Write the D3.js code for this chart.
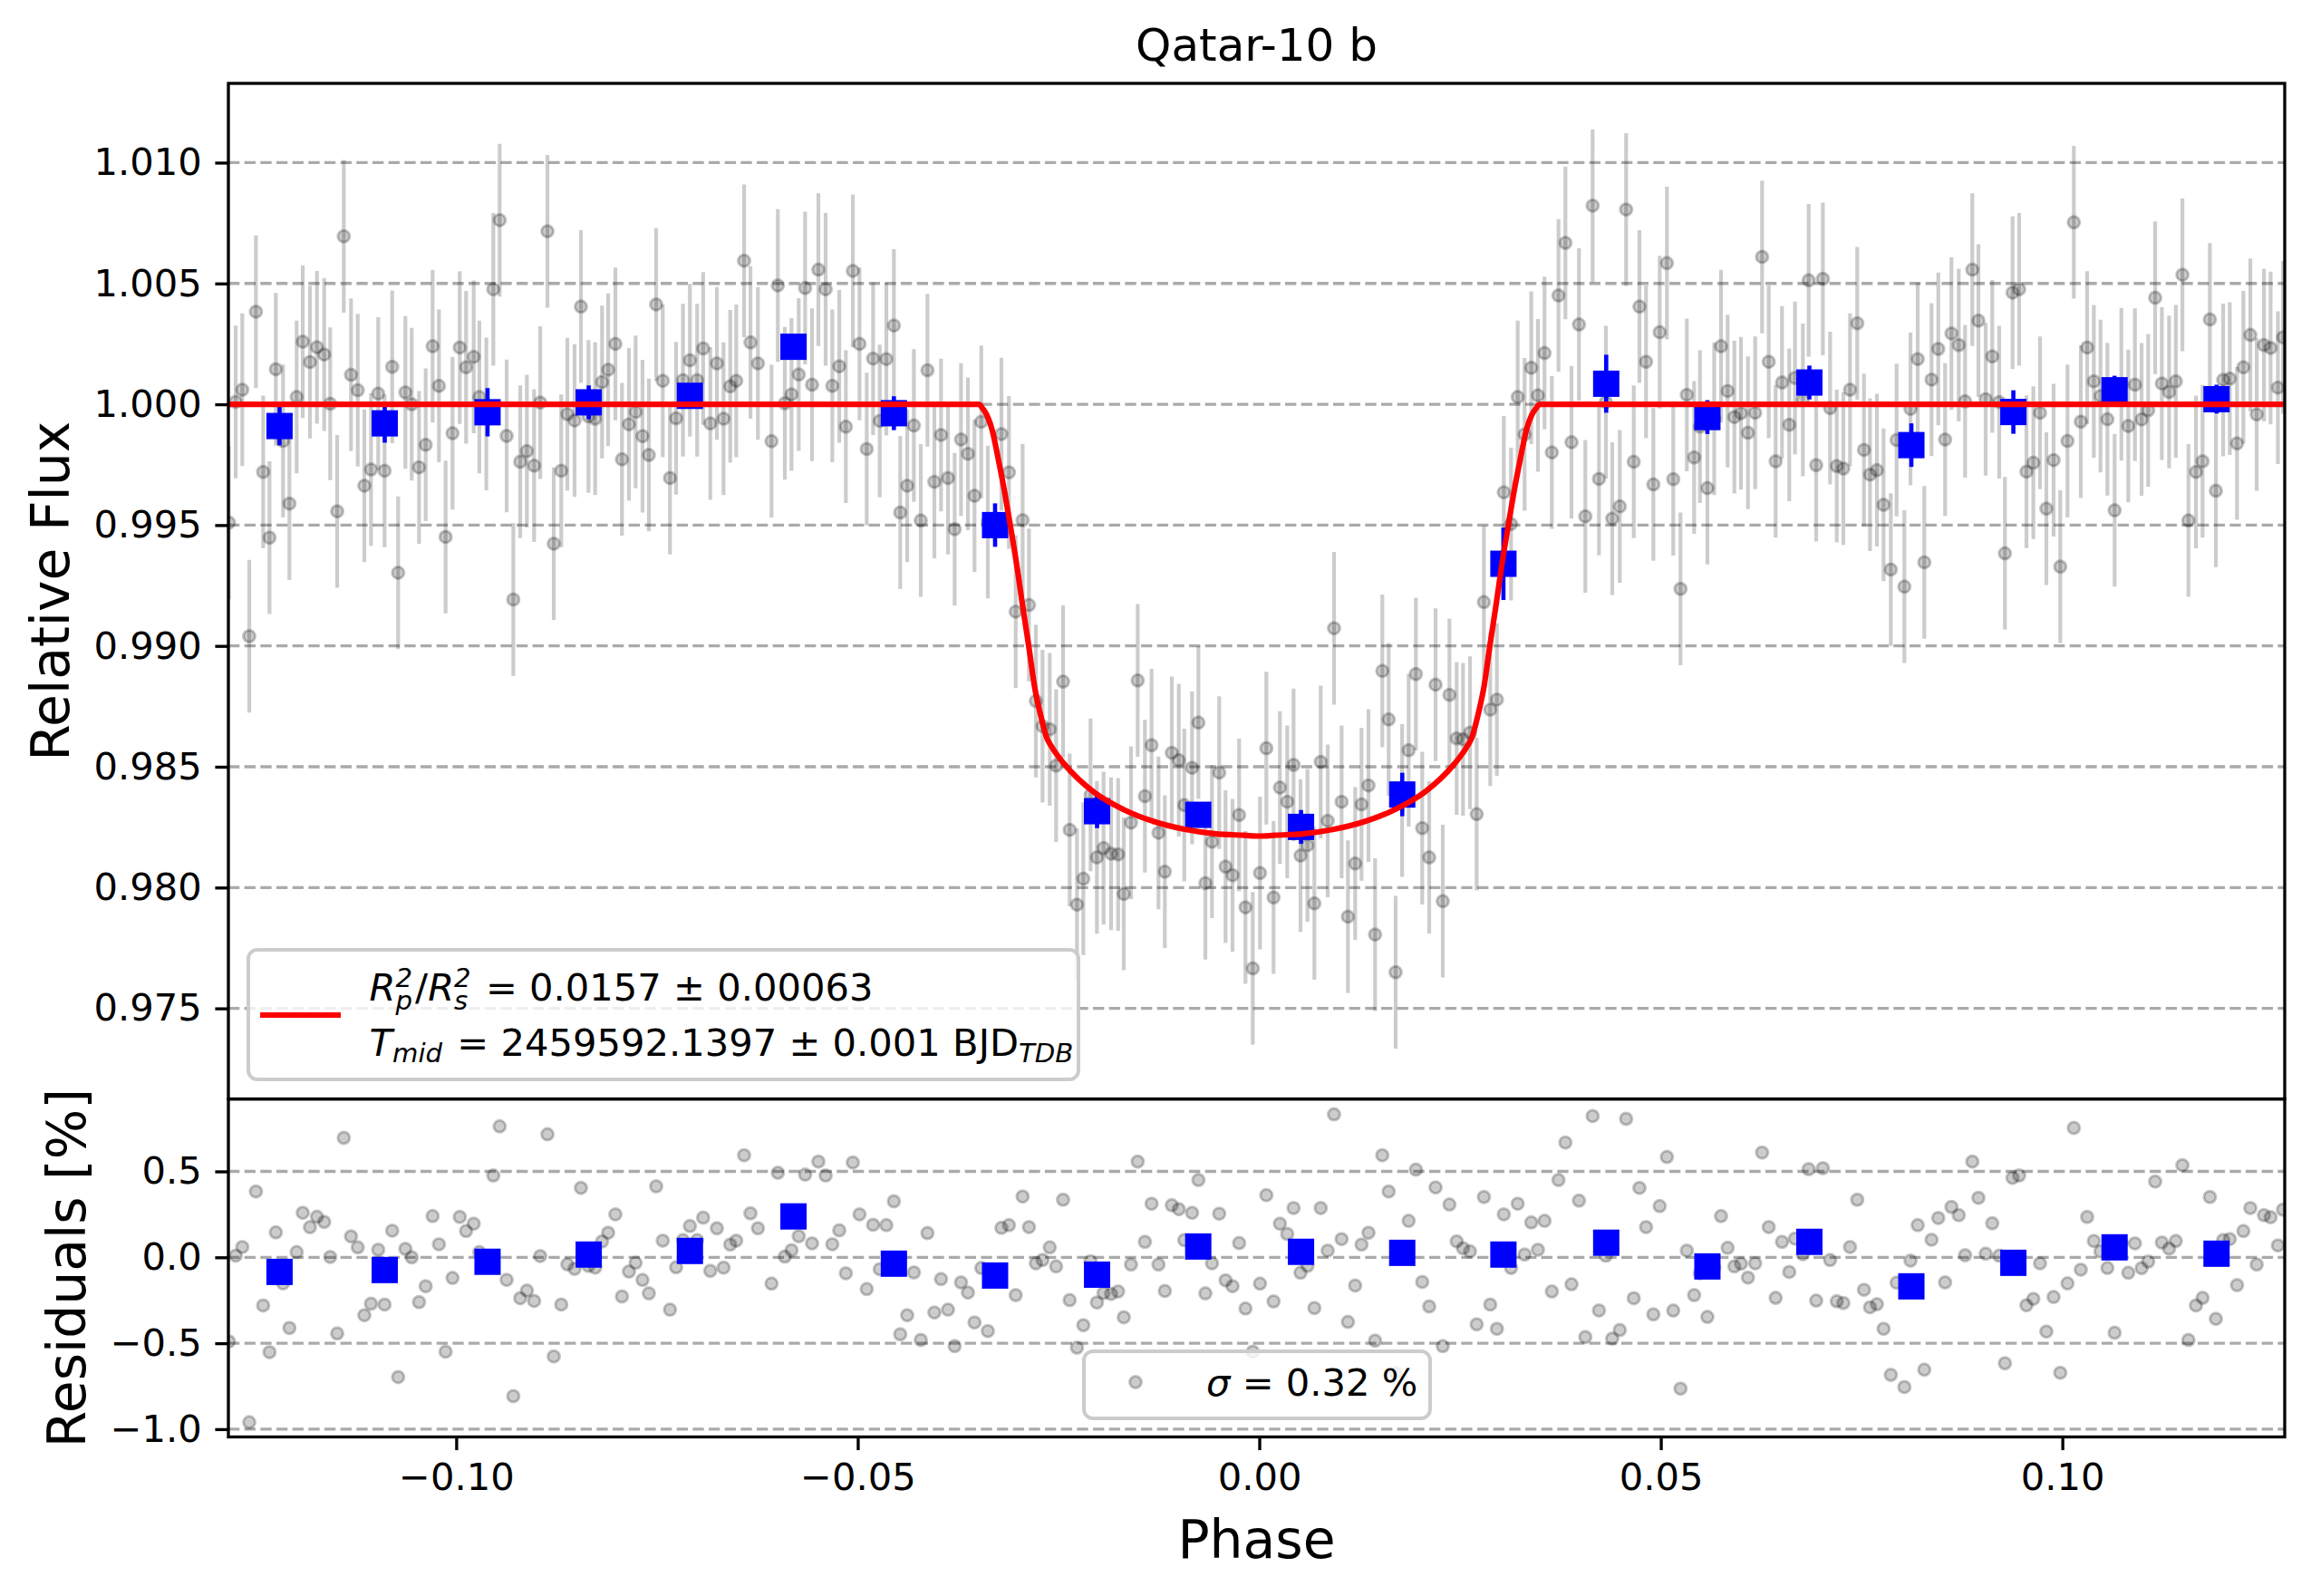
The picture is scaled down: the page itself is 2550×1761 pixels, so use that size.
<!DOCTYPE html>
<html><head><meta charset="utf-8">
<script src="https://cdn.jsdelivr.net/npm/d3@7"></script>
<style>body{margin:0;background:#fff}svg{display:block}text{white-space:pre}</style>
</head><body>
<svg id="c" width="2550" height="1761"></svg>
<script>
// ---------------- data ----------------
const chartTitle = "Qatar-10 b";
const xLabel = "Phase";
const yLabelTop = "Relative Flux";
const yLabelRes = "Residuals [%]";

const phase = [
-0.12830,-0.12746,-0.12664,-0.12577,-0.12494,-0.12404,-0.12325,-0.12246,-0.12156,-0.12077,
-0.11987,-0.11911,-0.11821,-0.11734,-0.11644,-0.11569,-0.11482,-0.11400,-0.11310,-0.11226,
-0.11144,-0.11061,-0.10971,-0.10892,-0.10797,-0.10723,-0.10633,-0.10554,-0.10463,-0.10380,
-0.10294,-0.10215,-0.10132,-0.10046,-0.09956,-0.09877,-0.09782,
-0.09712,-0.09625,-0.09538,-0.09459,-0.09372,-0.09289,-0.09203,-0.09120,-0.09030,-0.08954,
-0.08864,-0.08785,-0.08692,-0.08616,-0.08526,-0.08447,-0.08353,-0.08270,-0.08184,-0.08108,
-0.08018,-0.07936,-0.07849,-0.07766,-0.07680,-0.07601,-0.07510,-0.07428,-0.07338,-0.07262,
-0.07176,-0.07090,-0.07000,-0.06925,-0.06836,-0.06754,-0.06671,-0.06588,-0.06513,
-0.06415,-0.06336,-0.06243,-0.06074,-0.05995,-0.05908,-0.05825,-0.05735,-0.05655,-0.05569,
-0.05490,-0.05400,-0.05317,-0.05230,-0.05148,-0.05061,-0.04978,-0.04888,-0.04809,-0.04726,
-0.04644,-0.04550,-0.04471,-0.04384,-0.04301,-0.04215,-0.04132,-0.04046,-0.03963,-0.03876,
-0.03793,-0.03714,-0.03628,-0.03546,-0.03462,-0.03380,
-0.03211,-0.03117,-0.03033,-0.02947,-0.02868,-0.02782,-0.02699,-0.02609,-0.02530,-0.02443,
-0.02361,-0.02270,-0.02191,-0.02101,-0.02022,-0.01939,-0.01845,-0.01758,-0.01687,-0.01597,
-0.01514,-0.01424,-0.01341,-0.01255,-0.01176,-0.01089,-0.01002,-0.00934,-0.00837,-0.00758,
-0.00671,-0.00589,-0.00499,-0.00420,-0.00333,-0.00251,-0.00172,
-0.00081,0.00009,0.00088,0.00178,0.00257,0.00348,0.00427,0.00513,0.00600,0.00686,
0.00765,0.00852,0.00931,0.01025,0.01104,0.01194,0.01273,0.01360,0.01442,0.01532,
0.01611,0.01698,0.01779,0.01860,0.01950,0.02029,0.02116,0.02195,0.02285,0.02368,
0.02458,0.02537,0.02624,0.02707,0.02797,0.02876,0.02959,
0.03045,0.03135,0.03218,0.03304,0.03387,0.03470,0.03552,0.03643,0.03726,0.03812,
0.03888,0.03981,0.04060,0.04151,0.04230,0.04316,0.04395,0.04489,0.04568,0.04663,
0.04734,0.04816,0.04907,0.04986,0.05076,0.05155,0.05245,0.05324,0.05415,0.05487,
0.05580,0.05665,0.05750,0.05832,0.05916,0.05998,0.06085,
0.06175,0.06261,0.06344,0.06430,0.06509,0.06599,0.06671,0.06769,0.06841,0.06935,
0.07018,0.07108,0.07191,0.07273,0.07356,0.07446,0.07530,0.07605,0.07691,0.07774,
0.07864,0.07936,0.08033,0.08109,0.08199,0.08281,0.08371,0.08455,0.08540,0.08619,
0.08710,0.08789,0.08879,0.08955,0.09045,0.09127,0.09214,0.09285,
0.09380,0.09462,0.09553,0.09639,0.09722,0.09801,0.09891,0.09974,0.10064,0.10143,
0.10230,0.10309,0.10392,0.10475,0.10561,0.10651,0.10735,0.10821,0.10904,0.10987,
0.11069,0.11156,0.11239,0.11329,0.11413,0.11495,0.11570,0.11664,0.11746,0.11837,
0.11912,0.12003,0.12085,0.12175,0.12254,0.12341,0.12420,0.12511,0.12593,0.12684,0.12748
];

// residuals in percent
const resid = [
-0.49,0.01,0.06,-0.96,0.383,-0.28,-0.552,0.145,-0.152,-0.411,
0.03,0.259,0.175,0.236,0.206,0.002,-0.443,0.695,0.122,0.058,
-0.337,-0.270,0.044,-0.275,0.155,-0.697,0.049,0.000,-0.261,-0.168,
0.240,0.076,-0.549,-0.120,0.235,0.153,0.196,
0.03,-0.04,0.476,0.762,-0.131,-0.808,-0.238,-0.194,-0.254,0.007,
0.716,-0.577,-0.275,-0.041,-0.067,0.404,-0.05,-0.06,0.092,0.143,
0.250,-0.228,-0.083,-0.032,-0.132,-0.210,0.413,0.097,-0.305,-0.058,
0.10,0.182,0.10,0.231,-0.079,0.169,-0.06,0.074,0.097,
0.594,0.256,0.169,-0.153,0.492,0.004,0.041,0.123,0.481,0.081,
0.557,0.476,0.076,0.157,-0.093,0.552,0.250,-0.185,0.189,-0.069,
0.187,0.326,-0.448,-0.337,-0.088,-0.481,0.141,-0.321,-0.127,-0.305,
-0.517,-0.146,-0.205,-0.379,-0.062,-0.429,
0.171,0.187,-0.220,0.354,0.176,-0.035,-0.016,0.058,-0.053,0.335,
-0.249,-0.526,-0.395,-0.023,-0.263,-0.208,-0.213,-0.199,-0.349,-0.042,
0.557,0.090,0.312,-0.042,-0.196,0.303,0.280,0.10,0.259,0.450,
-0.210,-0.035,0.254,-0.134,-0.168,0.083,-0.298,
-0.549,-0.153,0.362,-0.257,0.196,0.136,0.287,-0.090,-0.05,-0.295,
0.287,0.039,0.832,0.106,-0.376,-0.164,0.074,0.143,-0.485,0.594,
0.383,-0.675,0.02,0.212,0.510,-0.143,-0.286,0.407,-0.517,0.307,
0.093,0.053,0.034,-0.390,0.351,-0.275,-0.416,
0.250,-0.062,0.312,0.016,0.203,0.044,0.212,-0.199,0.450,0.668,
-0.157,0.330,-0.464,0.822,-0.309,0.009,-0.473,-0.423,0.806,-0.238,
0.404,0.176,-0.332,0.298,0.584,-0.310,-0.764,0.039,-0.220,-0.093,
-0.347,-0.06,0.240,0.055,-0.053,-0.037,-0.118,
-0.035,0.610,0.176,-0.236,0.090,-0.085,0.109,0.018,0.513,-0.252,
0.519,-0.016,-0.256,-0.266,0.060,0.335,-0.189,-0.291,-0.273,-0.416,
-0.684,-0.148,-0.755,-0.019,0.187,-0.654,0.102,0.229,-0.146,0.293,
0.245,0.012,0.557,0.346,0.021,0.198,0.009,-0.617,
0.462,0.476,-0.279,-0.242,-0.035,-0.432,-0.231,-0.672,-0.152,0.753,
-0.072,0.235,0.095,0.034,-0.062,-0.439,0.083,-0.090,0.081,-0.063,
-0.025,0.441,0.086,0.051,0.095,0.536,-0.481,-0.280,-0.236,0.351,
-0.358,0.101,0.106,-0.162,0.153,0.287,-0.042,0.245,0.233,0.069,0.277
];

const fluxErr = 0.00316;   // per-point flux uncertainty (constant)

// binned points
const binPhase = [-0.1220,-0.1089,-0.0961,-0.0835,-0.0709,-0.0580,-0.0455,-0.0329,-0.0202,-0.0076,
                   0.0052, 0.0178, 0.0304, 0.0432, 0.0558, 0.0685, 0.0812, 0.0939, 0.1065, 0.1192];
const binFlux  = [0.99910,0.99921,0.99967,1.00008,1.00035,1.00238,0.99963,0.99500,0.98316,0.98301,
                  0.98251,0.98385,0.99340,1.00085,0.99947,1.00090,0.99831,0.99968,1.00058,1.00021];
const binErr   = [0.0008,0.0008,0.0010,0.0007,0.0005,0.0005,0.0007,0.0009,0.0007,0.0005,
                  0.0007,0.0009,0.0015,0.0012,0.0007,0.0007,0.0009,0.0009,0.0006,0.0006];
const binResid = [-0.085,-0.074,-0.026,0.016,0.037,0.238,-0.037,-0.106,-0.101,0.063,
                   0.032,0.026,0.016,0.085,-0.053,0.090,-0.169,-0.032,0.058,0.021];

// transit model curve
const modelPhase = [-0.1284,-0.0349,-0.0345,-0.0340,-0.0332,-0.0325,-0.0317,-0.0310,-0.0302,-0.0295,-0.0287,
  -0.0280,-0.0272,-0.0265,-0.0259,-0.0244,-0.0225,-0.0206,-0.0169,-0.0131,-0.0093,-0.0056,-0.0018,0,
  0.0018,0.0056,0.0093,0.0131,0.0169,0.0206,0.0225,0.0244,0.0259,0.0265,0.0272,0.0280,0.0287,0.0295,
  0.0302,0.0310,0.0317,0.0325,0.0332,0.0340,0.0345,0.0349,0.1277];
const modelFlux = [1,1,0.99985,0.99960,0.99885,0.99773,0.99635,0.99498,0.99335,0.99173,0.98998,
  0.98835,0.98710,0.98623,0.98585,0.98516,0.98448,0.98395,0.98323,0.98273,0.98241,0.98223,0.98216,0.98213,
  0.98216,0.98223,0.98241,0.98273,0.98323,0.98395,0.98448,0.98516,0.98585,0.98623,0.98710,0.98835,0.98998,0.99173,
  0.99335,0.99498,0.99635,0.99773,0.99885,0.99960,0.99985,1,1];

const topTicks = [0.975,0.980,0.985,0.990,0.995,1.000,1.005,1.010];
const resTicks = [-1.0,-0.5,0.0,0.5];
const xTicks = [-0.10,-0.05,0.00,0.05,0.10];
const xLim = [-0.12837, 0.12769];
const yLimTop = [0.97125, 1.01328];
const yLimRes = [-1.0454, 0.9214];

const legendDepth = {val:"0.0157", err:"0.00063"};
const legendTmid = {val:"2459592.1397", err:"0.001"};
const sigmaText = "0.32";

// ---------------- layout ----------------
const FONT = "DejaVu Sans";
const PT = 300/72;
const L = 252, R = 2521, T1 = 92, B1 = 1212.6, B2 = 1585.5;
const svg = d3.select("#c");
svg.append("rect").attr("width",2550).attr("height",1761).attr("fill","#fff");

const x = d3.scaleLinear().domain(xLim).range([L, R]);
const yT = d3.scaleLinear().domain(yLimTop).range([B1, T1]);
const yR = d3.scaleLinear().domain(yLimRes).range([B2, B1]);
const model = d3.scaleLinear().domain(modelPhase).range(modelFlux); // piecewise-linear model lookup

const defs = svg.append("defs");
defs.append("clipPath").attr("id","clipT").append("rect").attr("x",L).attr("y",T1).attr("width",R-L).attr("height",B1-T1);
defs.append("clipPath").attr("id","clipR").append("rect").attr("x",L).attr("y",B1).attr("width",R-L).attr("height",B2-B1);

const data = phase.map((p,i)=>({p, r: resid[i], f: model(p) + resid[i]/100}));
const bins = binPhase.map((p,i)=>({p, f: binFlux[i], e: binErr[i], r: binResid[i]}));

function grid(g, scale, ticks){
  g.selectAll("line.grid").data(ticks).join("line").attr("class","grid")
   .attr("x1",L).attr("x2",R).attr("y1",d=>scale(d)).attr("y2",d=>scale(d))
   .attr("stroke","#aaaaaa").attr("stroke-width",0.8*PT).attr("stroke-dasharray",(3.7*0.8*PT)+","+(1.6*0.8*PT));
}

// ---- top panel ----
const gT = svg.append("g").attr("clip-path","url(#clipT)");
grid(gT, yT, topTicks);
gT.selectAll("line.eb").data(data).join("line").attr("class","eb")
  .attr("x1",d=>x(d.p)).attr("x2",d=>x(d.p))
  .attr("y1",d=>yT(d.f-fluxErr)).attr("y2",d=>yT(d.f+fluxErr))
  .attr("stroke","#000").attr("stroke-opacity",0.2).attr("stroke-width",4.2);
gT.selectAll("circle.pt").data(data).join("circle").attr("class","pt")
  .attr("cx",d=>x(d.p)).attr("cy",d=>yT(d.f)).attr("r",6.5)
  .attr("fill","#000").attr("fill-opacity",0.2).attr("stroke","#000").attr("stroke-opacity",0.22).attr("stroke-width",3);
gT.selectAll("line.beb").data(bins).join("line").attr("class","beb")
  .attr("x1",d=>x(d.p)).attr("x2",d=>x(d.p))
  .attr("y1",d=>yT(d.f-d.e)).attr("y2",d=>yT(d.f+d.e))
  .attr("stroke","#0000ff").attr("stroke-width",4.6);
gT.selectAll("rect.bin").data(bins).join("rect").attr("class","bin")
  .attr("x",d=>x(d.p)-14.5).attr("y",d=>yT(d.f)-14.5).attr("width",29).attr("height",29).attr("fill","#0000ff");
const line = d3.line().x((d,i)=>x(modelPhase[i])).y(d=>yT(d)).curve(d3.curveMonotoneX);
gT.append("path").attr("d",line(modelFlux)).attr("fill","none").attr("stroke","#ff0000").attr("stroke-width",6.2);

// ---- residual panel ----
const gR = svg.append("g").attr("clip-path","url(#clipR)");
grid(gR, yR, resTicks);
gR.selectAll("circle.pt").data(data).join("circle").attr("class","pt")
  .attr("cx",d=>x(d.p)).attr("cy",d=>yR(d.r)).attr("r",6.5)
  .attr("fill","#000").attr("fill-opacity",0.2).attr("stroke","#000").attr("stroke-opacity",0.22).attr("stroke-width",3);
gR.selectAll("rect.bin").data(bins).join("rect").attr("class","bin")
  .attr("x",d=>x(d.p)-14.5).attr("y",d=>yR(d.r)-14.5).attr("width",29).attr("height",29).attr("fill","#0000ff");

// ---- axes ----
const TF = 10*PT;
function styleAxis(g){
  g.select(".domain").remove();
  g.selectAll(".tick line").attr("stroke","#000").attr("stroke-width",0.8*PT);
  g.selectAll(".tick text").attr("font-family",FONT).attr("font-size",TF).attr("fill","#000");
}
svg.append("g").attr("transform",`translate(${L},0)`)
  .call(d3.axisLeft(yT).tickValues(topTicks).tickFormat(d3.format(".3f")).tickSize(3.5*PT).tickPadding(3.5*PT)).call(styleAxis);
svg.append("g").attr("transform",`translate(${L},0)`)
  .call(d3.axisLeft(yR).tickValues(resTicks).tickFormat(d3.format(".1f")).tickSize(3.5*PT).tickPadding(3.5*PT)).call(styleAxis);
svg.append("g").attr("transform",`translate(0,${B2})`)
  .call(d3.axisBottom(x).tickValues(xTicks).tickFormat(d3.format(".2f")).tickSize(3.5*PT).tickPadding(3.5*PT)).call(styleAxis);

// frames
svg.append("rect").attr("x",L).attr("y",T1).attr("width",R-L).attr("height",B1-T1).attr("fill","none").attr("stroke","#000").attr("stroke-width",0.8*PT);
svg.append("rect").attr("x",L).attr("y",B1).attr("width",R-L).attr("height",B2-B1).attr("fill","none").attr("stroke","#000").attr("stroke-width",0.8*PT);

// labels
const LF = 14*PT;
svg.append("text").attr("x",(L+R)/2).attr("y",67).attr("text-anchor","middle").attr("font-family",FONT).attr("font-size",12*PT).text(chartTitle);
svg.append("text").attr("x",(L+R)/2).attr("y",1719).attr("text-anchor","middle").attr("font-family",FONT).attr("font-size",LF).text(xLabel);
svg.append("text").attr("transform",`translate(76,${(T1+B1)/2}) rotate(-90)`).attr("text-anchor","middle").attr("font-family",FONT).attr("font-size",LF).text(yLabelTop);
svg.append("text").attr("transform",`translate(94,${(B1+B2)/2}) rotate(-90)`).attr("text-anchor","middle").attr("font-family",FONT).attr("font-size",LF).text(yLabelRes);

// text measuring helper
function measure(str, fs, italic){
  const t = svg.append("text").attr("font-family",FONT).attr("font-size",fs).attr("font-style",italic?"italic":"normal").text(str);
  const w = t.node().getComputedTextLength(); t.remove(); return w;
}
// rich text helper (mathtext-like): one <text> per line; stacked scripts share one tspan with per-glyph positions
function rich(g, x0, y0, fs, runs){
  const txt = g.append("text").attr("font-family",FONT).attr("font-size",fs);
  let cx = x0;
  const s = fs*0.7;
  runs.forEach(r=>{
    if (r.t){
      txt.append("tspan").attr("x",cx).attr("y",y0).attr("font-size",fs)
        .attr("font-style",r.it?"italic":"normal").text(r.t);
      cx += measure(r.t, fs, r.it);
    }
    if (r.sup && r.sub){
      const str = r.sup + r.sub;
      const xs = Array.from(str, ()=>0);
      let ax = cx; Array.from(r.sup).forEach((c,i)=>{ xs[i] = ax; ax += measure(c, s, true); });
      ax = cx; Array.from(r.sub).forEach((c,i)=>{ xs[r.sup.length+i] = ax; ax += measure(c, s, true); });
      const ys = Array.from(r.sup, ()=>y0 - fs*0.36).concat(Array.from(r.sub, ()=>y0 + fs*0.24));
      txt.append("tspan").attr("x",xs.join(" ")).attr("y",ys.join(" ")).attr("font-size",s).attr("font-style","italic").text(str);
      cx += Math.max(measure(r.sup, s, true), measure(r.sub, s, true)) + (r.spad||2);
    } else if (r.sub){
      txt.append("tspan").attr("x",cx).attr("y",y0 + fs*0.17).attr("font-size",s).attr("font-style","italic").text(r.sub);
      cx += measure(r.sub, s, true) + (r.spad||2);
    }
  });
  return cx;
}

// top legend
const lg = svg.append("g");
lg.append("rect").attr("x",274).attr("y",1048).attr("width",916).attr("height",143).attr("rx",10)
  .attr("fill","#fff").attr("fill-opacity",0.8).attr("stroke","#cccccc").attr("stroke-width",4);
lg.append("line").attr("x1",287).attr("x2",376).attr("y1",1120).attr("y2",1120).attr("stroke","#ff0000").attr("stroke-width",6.2);
rich(lg, 407.6, 1104, TF, [
  {t:"R", it:true, sub:"p", sup:"2", spad:3},
  {t:"/"},
  {t:"R", it:true, sub:"s", sup:"2", spad:3},
  {t:` = ${legendDepth.val} \u00b1 ${legendDepth.err}`}
]);
rich(lg, 407.6, 1165, TF, [
  {t:"T", it:true, sub:"mid", spad:3},
  {t:` = ${legendTmid.val} \u00b1 ${legendTmid.err} BJD`, sub:"TDB"}
]);

// residual legend
const rg = svg.append("g");
rg.append("rect").attr("x",1196).attr("y",1491).attr("width",382).attr("height",74).attr("rx",10)
  .attr("fill","#fff").attr("fill-opacity",0.8).attr("stroke","#cccccc").attr("stroke-width",4);
rg.append("circle").attr("cx",1253).attr("cy",1525).attr("r",6.5)
  .attr("fill","#000").attr("fill-opacity",0.2).attr("stroke","#000").attr("stroke-opacity",0.22).attr("stroke-width",3);
rich(rg, 1331, 1540, TF, [
  {t:"\u03c3", it:true},
  {t:` = ${sigmaText} %`}
]);
</script>
</body></html>
